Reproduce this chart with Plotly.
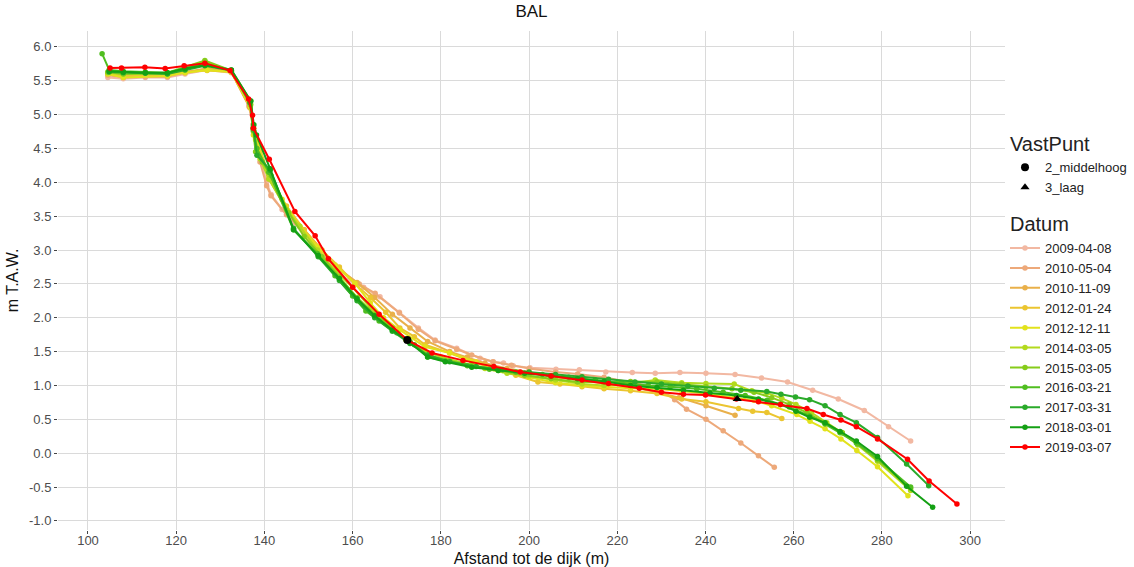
import plotly.graph_objects as go

dates = ["2009-04-08", "2010-05-04", "2010-11-09", "2012-01-24", "2012-12-11",
         "2014-03-05", "2015-03-05", "2016-03-21", "2017-03-31", "2018-03-01", "2019-03-07"]
colors = ["#F2B8A2", "#EDA97A", "#E9B04A", "#EBC530", "#E2E21C",
          "#B3DA1E", "#86CC1A", "#50BE20", "#2AAA2A", "#14A014", "#FF0000"]

x_2009 = [104.5,108,113,118,122,127,132.5,136.5,137.5,138.5,140.5,141.5,144,147,151,155,159,162.5,166.2,170.6,174.9,178.7,183.6,188.9,191.9,194.2,196.4,200.2,206.1,211.4,217.4,223.4,228.6,234.2,240.1,246.7,252.7,258.6,264.3,270.1,276,281.5,286.5]
y_2009 = [5.55,5.53,5.55,5.55,5.6,5.66,5.62,5.15,4.8,4.5,4.0,3.82,3.6,3.4,3.1,2.8,2.55,2.45,2.31,2.08,1.85,1.67,1.55,1.4,1.35,1.33,1.29,1.26,1.24,1.23,1.2,1.19,1.18,1.19,1.18,1.16,1.11,1.05,0.93,0.8,0.63,0.39,0.18]

x_2010a = [104.5,108,113,118,122,127,132.5,136.5,137.4,139,140.5,141.5,145,149,153,157,161.5,165.1,170.6,174.9,178.7,183.6,187,191.8,196,200,206,211,217,223,229,233,235.7,240.1,244,248,252,255.6]
y_2010a = [5.58,5.55,5.56,5.56,5.62,5.68,5.63,5.12,4.85,4.3,3.95,3.8,3.52,3.25,2.95,2.7,2.5,2.36,2.07,1.83,1.66,1.53,1.45,1.35,1.3,1.25,1.2,1.17,1.12,1.05,0.97,0.79,0.65,0.5,0.33,0.15,-0.04,-0.21]

x_2010b = [104.5,108,118,122,127,132.5,136.7,137.6,139,141,145,149,153,157,161,165,169,173,177,182,186,190,195,200,205,211,217,223,229,234,240.1,246.7]
y_2010b = [5.6,5.56,5.58,5.63,5.68,5.64,5.1,4.8,4.45,4.05,3.6,3.3,3.0,2.72,2.52,2.3,2.05,1.85,1.65,1.5,1.42,1.33,1.25,1.2,1.13,1.08,1.02,0.98,0.9,0.82,0.7,0.56]

x_2012a = [104.5,108,118,122,127,132.5,136.8,137.6,139,141,145,149,153,157,160.5,164,167.5,170.7,174,176.4,182,187,192,197,202,207,212,217,223,229,234.6,240.1,247.5,250.7,253.9,257.3]
y_2012a = [5.62,5.58,5.6,5.63,5.65,5.63,5.1,4.75,4.5,4.1,3.65,3.3,3.0,2.75,2.5,2.3,2.08,1.85,1.72,1.6,1.48,1.35,1.25,1.15,1.05,1.02,0.98,0.95,0.92,0.88,0.8,0.76,0.66,0.62,0.6,0.51]

x_2012b = [104.5,108,118,122,127,132.5,136.8,137.5,138,140.5,144,148,152,156,160.5,164,167,170.7,176.4,182,188,194,200,206,212,217,223,229,234.6,240.1,246.5,251,255,260.7,263.7,267.1,270.7,274.3,279,285.9]
y_2012b = [5.6,5.55,5.57,5.62,5.66,5.63,5.12,4.7,4.65,4.2,3.75,3.35,3.05,2.78,2.51,2.22,2.0,1.82,1.57,1.48,1.35,1.22,1.12,1.04,1.0,0.98,0.96,0.95,0.92,0.88,0.82,0.78,0.7,0.57,0.47,0.36,0.21,0.04,-0.2,-0.63]

x_2014 = [104.5,108,118,122,126.5,132.5,136.9,137.5,138,139,141,145,148,152,156,160,164,168,172,176,180,185,190,195,200,206,212,217,223,228.6,234.6,240.1,246.5,250.5,253.9,257.3,260.5,264,267.5,271,274.5,279,286.5]
y_2014 = [5.62,5.6,5.6,5.68,5.78,5.64,5.15,4.75,4.63,4.35,4.05,3.6,3.35,3.0,2.7,2.45,2.15,1.9,1.68,1.52,1.42,1.33,1.25,1.18,1.14,1.08,1.02,1.0,1.03,1.08,1.04,1.03,1.02,0.92,0.89,0.81,0.72,0.6,0.45,0.3,0.12,-0.12,-0.55]

x_2015 = [104.5,108,118,122,126.5,132.5,136.8,137.4,138,139.5,141.5,145.5,149,153,157,161,165,169,173,177,182,187,193,199,205,211,217,223,229,234.6,240.1,246,251,255,259,263,267,271,274.5,279,286.5]
y_2015 = [5.63,5.6,5.62,5.7,5.8,5.65,5.15,4.8,4.45,4.3,4.1,3.55,3.2,2.9,2.6,2.3,2.05,1.85,1.65,1.45,1.36,1.3,1.22,1.15,1.1,1.05,1.05,1.06,1.05,1.02,0.98,0.95,0.9,0.82,0.72,0.6,0.45,0.3,0.13,-0.1,-0.52]

x_2016 = [103.2,104.8,108,113,118,122,126.5,132.5,136.9,137.5,138.3,141,146.6,152,156,160,163,166,170,174,177,181,186,191,197,203,209,215,221,227,232,238,244,249,254,259,263.6,267.1,270.5,274.2,279,286.5]
y_2016 = [5.9,5.66,5.64,5.63,5.62,5.68,5.75,5.66,5.2,4.77,4.5,4.15,3.3,2.95,2.62,2.32,2.1,1.95,1.78,1.6,1.42,1.36,1.29,1.24,1.2,1.16,1.12,1.08,1.04,1.0,0.98,0.95,0.9,0.85,0.78,0.68,0.55,0.43,0.3,0.15,-0.08,-0.5]

x_2017 = [104.8,108,113,118,122,126.5,132.5,136.7,137.5,138.3,141.3,146.6,152.2,157,161,165,169,173,177,182,188,194,200,206,212,218,224,230,236,242,248,253.9,257.1,260.4,263.6,267.1,270.5,274.2,279,285.6,290.6]
y_2017 = [5.63,5.62,5.61,5.6,5.66,5.72,5.65,5.18,4.8,4.4,4.18,3.32,2.9,2.55,2.25,2.0,1.8,1.62,1.45,1.35,1.28,1.23,1.2,1.16,1.13,1.09,1.05,1.02,0.99,0.96,0.93,0.91,0.87,0.83,0.79,0.7,0.57,0.45,0.23,-0.16,-0.48]

x_2018 = [104.8,108,113,118,122,126.5,132.5,136.9,137.6,138.2,141.3,146.6,152.2,157,161,165,169,173,177,181,187,193,199,205,211,217,223,229,235,241,247,252,257,260.5,263.6,267.1,270.5,274.2,279,285.6,291.5]
y_2018 = [5.64,5.63,5.62,5.62,5.68,5.73,5.66,5.2,4.85,4.7,4.2,3.3,2.92,2.58,2.28,2.03,1.82,1.63,1.42,1.35,1.27,1.22,1.18,1.14,1.1,1.06,1.0,0.97,0.93,0.89,0.85,0.8,0.72,0.62,0.53,0.45,0.32,0.18,-0.05,-0.49,-0.8]

x_2019 = [105,107.6,112.9,117.5,121.8,126.5,132.2,136.4,137.3,137.5,141.1,146.9,151.5,154.5,160,166,172.4,178,185,192,198,205,212,218,225,230,235,240,247,252,257,263,266.7,270.7,274.2,279,285.8,290.7,297]
y_2019 = [5.69,5.69,5.7,5.68,5.72,5.76,5.65,5.23,4.99,4.8,4.34,3.57,3.21,2.87,2.45,2.05,1.67,1.48,1.37,1.28,1.2,1.14,1.08,1.03,0.96,0.9,0.87,0.86,0.8,0.76,0.72,0.66,0.57,0.49,0.39,0.21,-0.09,-0.41,-0.75]

series_x = [x_2009, x_2010a, x_2010b, x_2012a, x_2012b, x_2014, x_2015, x_2016, x_2017, x_2018, x_2019]
series_y = [y_2009, y_2010a, y_2010b, y_2012a, y_2012b, y_2014, y_2015, y_2016, y_2017, y_2018, y_2019]

vast_names = ["2_middelhoog", "3_laag"]
vast_symbols = ["circle", "triangle-up"]
vast_x = [172.4, 247.2]
vast_y = [1.67, 0.80]

x_ticks = [100, 120, 140, 160, 180, 200, 220, 240, 260, 280, 300]
y_ticks = [-1.0, -0.5, 0.0, 0.5, 1.0, 1.5, 2.0, 2.5, 3.0, 3.5, 4.0, 4.5, 5.0, 5.5, 6.0]

fig = go.Figure()

for d, c, xs, ys in zip(dates, colors, series_x, series_y):
    fig.add_trace(go.Scatter(
        x=xs, y=ys, mode="lines+markers", name=d,
        line=dict(color=c, width=2),
        marker=dict(color=c, size=5.5),
        legendgroup="datum", legendgrouptitle=dict(text="Datum", font=dict(size=20, color="#222")),
        legendrank=2,
    ))

for name, sym, vx, vy in zip(vast_names, vast_symbols, vast_x, vast_y):
    fig.add_trace(go.Scatter(
        x=[vx], y=[vy], mode="markers", name=name,
        marker=dict(color="black", size=8, symbol=sym),
        legendgroup="vp", legendgrouptitle=dict(text="VastPunt", font=dict(size=20, color="#222")),
        legendrank=1,
    ))

grid = "#DADADA"
fig.update_layout(
    width=1134, height=567,
    plot_bgcolor="white", paper_bgcolor="white",
    font=dict(family="Liberation Sans, Arial, sans-serif", color="#222"),
    margin=dict(l=58, r=129, t=31, b=37, autoexpand=False),
    title=dict(text="BAL", x=0.5, xref="paper", y=1 - 5 / 567, yref="container", yanchor="top",
               font=dict(size=17, color="#111")),
    legend=dict(x=1.0, xanchor="left", y=0.815, yanchor="top",
                font=dict(size=13, color="#222"), tracegroupgap=12,
                itemwidth=30, bgcolor="rgba(0,0,0,0)"),
    showlegend=True,
)
fig.update_xaxes(range=[93.2, 307.9], tickvals=x_ticks, ticktext=[str(v) for v in x_ticks],
                 showgrid=True, gridcolor=grid, gridwidth=1, zeroline=False, automargin=False,
                 ticks="outside", ticklen=3, tickcolor="#444", showline=False,
                 ticklabelstandoff=-5,
                 tickfont=dict(size=13, color="#4D4D4D"),
                 title=dict(text="Afstand tot de dijk (m)", font=dict(size=16, color="#111"), standoff=8))
fig.update_yaxes(range=[-1.135, 6.235], tickvals=y_ticks, ticktext=[f"{v:.1f}" for v in y_ticks],
                 showgrid=True, gridcolor=grid, gridwidth=1, zeroline=False, automargin=False,
                 ticks="outside", ticklen=3, tickcolor="#444", showline=False,
                 tickfont=dict(size=13, color="#4D4D4D"),
                 title=dict(text="m T.A.W.", font=dict(size=16, color="#111"), standoff=6))

fig.write_html("out.html", config={"displayModeBar": False},
               post_script="document.body.style.margin='0';document.body.style.overflow='hidden';")
